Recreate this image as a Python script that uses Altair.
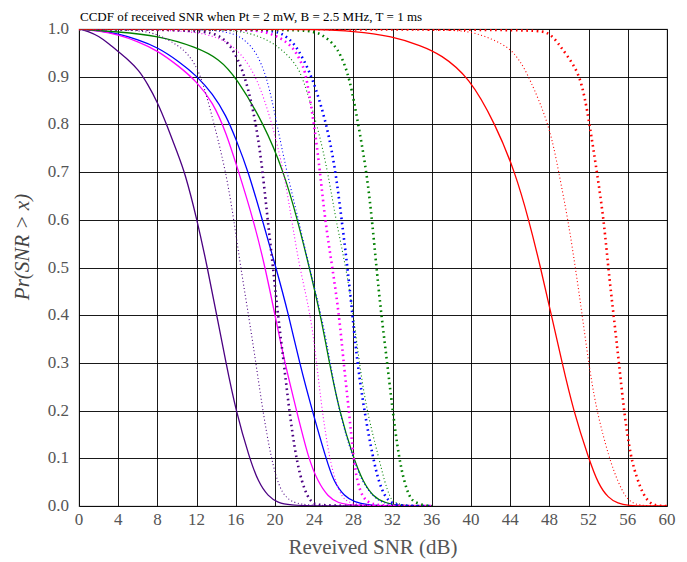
import altair as alt
import pandas as pd

# ---- data (x in dB, y = Pr(SNR > x)) ----
indigo_solid_x = [0, 1, 2, 3, 4, 5, 6.1, 7, 8, 9, 10, 10.8, 12.05, 13.1, 14.05, 15.0, 16.0, 17.4, 18.3, 19.3, 20.3, 21.5, 24, 36]
indigo_solid_y = [1, 0.995, 0.985, 0.97, 0.953, 0.936, 0.914, 0.885, 0.847, 0.797, 0.742, 0.7, 0.6, 0.5, 0.4, 0.3, 0.2, 0.1, 0.05, 0.02, 0.007, 0.002, 0, 0]

indigo_thin_x = [0, 6, 8, 10.2, 11.3, 12.3, 13.1, 13.8, 15.0, 15.8, 16.5, 17.3, 18.05, 18.75, 19.6, 20.4, 21.2, 22.2, 24, 36]
indigo_thin_y = [1, 0.998, 0.99, 0.965, 0.944, 0.909, 0.854, 0.8, 0.7, 0.6, 0.5, 0.4, 0.3, 0.2, 0.1, 0.04, 0.015, 0.005, 0, 0]

indigo_thick_x = [0, 12, 14, 15, 15.8, 17.0, 18.1, 18.75, 19.25, 19.8, 20.3, 20.9, 21.45, 22.15, 22.75, 23.3, 23.9, 24.5, 36]
indigo_thick_y = [1, 0.998, 0.99, 0.975, 0.955, 0.9, 0.8, 0.7, 0.6, 0.5, 0.4, 0.3, 0.2, 0.1, 0.05, 0.02, 0.005, 0, 0]

blue_solid_x = [0, 2, 4, 6, 8, 10.2, 12, 13.65, 15, 16, 17.3, 18.7, 20.1, 21.4, 22.5, 23.8, 25.2, 26.0, 27.1, 28.1, 29.5, 31, 36]
blue_solid_y = [1, 0.997, 0.99, 0.978, 0.962, 0.932, 0.902, 0.864, 0.819, 0.77, 0.7, 0.6, 0.5, 0.4, 0.3, 0.2, 0.1, 0.05, 0.02, 0.008, 0.002, 0, 0]

blue_thin_x = [0, 12, 14, 16, 17, 18, 19.2, 20.2, 21.2, 22.4, 23.5, 24.75, 25.65, 26.5, 27.95, 28.9, 30.0, 31.0, 33, 36]
blue_thin_y = [1, 0.999, 0.997, 0.99, 0.975, 0.955, 0.9, 0.8, 0.7, 0.6, 0.5, 0.4, 0.3, 0.2, 0.1, 0.05, 0.02, 0.005, 0, 0]

blue_thick_x = [0, 18, 20, 20.7, 21.4, 22.1, 22.7, 23.8, 25.3, 26.2, 26.8, 27.4, 27.9, 28.4, 29.1, 30.0, 30.6, 31.2, 31.9, 33, 36]
blue_thick_y = [1, 0.999, 0.995, 0.99, 0.98, 0.965, 0.944, 0.9, 0.8, 0.7, 0.6, 0.5, 0.4, 0.3, 0.2, 0.1, 0.05, 0.02, 0.005, 0, 0]

magenta_solid_x = [0, 2, 4, 6, 8, 10.2, 12, 13.65, 15, 16.3, 17.8, 19.0, 20.0, 21.0, 22.2, 23.4, 24.4, 25.4, 26.4, 28, 36]
magenta_solid_y = [1, 0.996, 0.988, 0.974, 0.955, 0.922, 0.89, 0.847, 0.784, 0.7, 0.6, 0.5, 0.4, 0.3, 0.2, 0.1, 0.05, 0.02, 0.006, 0, 0]

magenta_thin_x = [0, 10, 13, 15, 16.5, 18.15, 19.75, 20.9, 21.7, 22.5, 23.65, 24.25, 24.8, 25.55, 26.2, 26.8, 27.4, 29, 36]
magenta_thin_y = [1, 0.998, 0.99, 0.975, 0.95, 0.9, 0.8, 0.7, 0.6, 0.5, 0.4, 0.3, 0.2, 0.1, 0.05, 0.02, 0.008, 0, 0]

magenta_thick_x = [0, 16, 18, 19.2, 20.7, 21.6, 22.2, 22.9, 23.2, 24.0, 24.6, 25.1, 25.85, 26.55, 27.0, 27.55, 28.0, 28.4, 28.9, 29.6, 31, 36]
magenta_thick_y = [1, 0.999, 0.997, 0.993, 0.98, 0.965, 0.95, 0.92, 0.9, 0.8, 0.7, 0.6, 0.5, 0.4, 0.3, 0.2, 0.1, 0.05, 0.02, 0.005, 0, 0]

green_solid_x = [0, 4, 8, 12, 14.3, 16.0, 18.9, 20.9, 22.3, 23.5, 24.65, 25.55, 26.55, 28.0, 29.0, 30.0, 31.2, 33, 36]
green_solid_y = [1, 0.994, 0.986, 0.962, 0.937, 0.9, 0.8, 0.7, 0.6, 0.5, 0.4, 0.3, 0.2, 0.1, 0.05, 0.02, 0.006, 0, 0]

green_thin_x = [0, 14, 17, 19.5, 21.2, 22.2, 22.8, 24.3, 25.4, 26.2, 27.25, 28.0, 28.6, 29.35, 30.6, 31.2, 31.7, 32.1, 33.5, 36]
green_thin_y = [1, 0.999, 0.995, 0.976, 0.948, 0.923, 0.9, 0.8, 0.7, 0.6, 0.5, 0.4, 0.3, 0.2, 0.1, 0.05, 0.02, 0.007, 0, 0]

green_thick_x = [0, 22, 24, 25.0, 26.05, 26.7, 27.6, 28.5, 29.35, 29.9, 30.35, 30.85, 31.45, 32.0, 32.65, 33.2, 33.7, 34.2, 35.5, 36]
green_thick_y = [1, 0.999, 0.995, 0.986, 0.967, 0.946, 0.9, 0.8, 0.7, 0.6, 0.5, 0.4, 0.3, 0.2, 0.1, 0.05, 0.02, 0.007, 0, 0]

red_solid_x = [0, 20, 24, 28, 32, 34.9, 36.9, 39.8, 42.5, 44.5, 45.9, 47.1, 48.2, 49.3, 50.45, 52.0, 53, 54, 55, 56, 58, 60]
red_solid_y = [1, 1.0, 0.999, 0.996, 0.985, 0.965, 0.947, 0.9, 0.8, 0.7, 0.6, 0.5, 0.4, 0.3, 0.2, 0.1, 0.045, 0.017, 0.005, 0.001, 0, 0]

red_thin_x = [0, 36.9, 40, 42.05, 44, 45.1, 45.9, 48.0, 48.95, 49.9, 50.65, 51.35, 52.0, 52.8, 54.1, 55.0, 55.9, 57, 60]
red_thin_y = [1, 1.0, 0.995, 0.98, 0.96, 0.93, 0.9, 0.8, 0.7, 0.6, 0.5, 0.4, 0.3, 0.2, 0.1, 0.05, 0.013, 0, 0]

red_thick_x = [0, 46, 47.9, 48.9, 49.9, 51, 51.6, 52.1, 52.85, 53.55, 54.0, 54.55, 55.1, 55.6, 56.3, 57, 57.5, 58.2, 59, 60]
red_thick_y = [1, 0.999, 0.995, 0.97, 0.942, 0.907, 0.858, 0.8, 0.7, 0.6, 0.5, 0.4, 0.3, 0.2, 0.1, 0.055, 0.027, 0.006, 0, 0]

families = ["indigo", "blue", "magenta", "green", "red"]
family_colors = ["#4B0082", "#0000FF", "#FF00FF", "#008000", "#FF0000"]
x_ticks = list(range(0, 61, 4))
x_tick_labels = [str(v) for v in x_ticks]
y_ticks = [round(i * 0.1, 1) for i in range(11)]
y_tick_labels = ["%.1f" % v for v in y_ticks]
title_text = "CCDF of received SNR when Pt = 2 mW, B = 2.5 MHz, T = 1 ms"
x_title = "Reveived SNR (dB)"
y_title = "Pr(SNR > x)"

curves = [
    ("indigo", "solid", indigo_solid_x, indigo_solid_y),
    ("indigo", "thin", indigo_thin_x, indigo_thin_y),
    ("indigo", "thick", indigo_thick_x, indigo_thick_y),
    ("blue", "solid", blue_solid_x, blue_solid_y),
    ("blue", "thin", blue_thin_x, blue_thin_y),
    ("blue", "thick", blue_thick_x, blue_thick_y),
    ("magenta", "solid", magenta_solid_x, magenta_solid_y),
    ("magenta", "thin", magenta_thin_x, magenta_thin_y),
    ("magenta", "thick", magenta_thick_x, magenta_thick_y),
    ("green", "solid", green_solid_x, green_solid_y),
    ("green", "thin", green_thin_x, green_thin_y),
    ("green", "thick", green_thick_x, green_thick_y),
    ("red", "solid", red_solid_x, red_solid_y),
    ("red", "thin", red_thin_x, red_thin_y),
    ("red", "thick", red_thick_x, red_thick_y),
]

rows = []
for fam, style, xs, ys in curves:
    for i, (xv, yv) in enumerate(zip(xs, ys)):
        rows.append({"family": fam, "style": style, "series": fam + "_" + style,
                     "x": xv, "y": yv, "i": i})
df = pd.DataFrame(rows)

SERIF = "Liberation Serif"
LABEL_COLOR = "#555555"

xscale = alt.Scale(domain=[0, 60], nice=False)
yscale = alt.Scale(domain=[0, 1], nice=False)
x_axis = alt.Axis(values=x_ticks, labels=False, title=None, grid=True,
                  gridColor="#000000", gridWidth=1, gridOpacity=0.9, domain=False, ticks=False)
y_axis = alt.Axis(values=y_ticks, labels=False, title=None, grid=True,
                  gridColor="#000000", gridWidth=1, gridOpacity=0.9, domain=False, ticks=False)
xenc = alt.X("x:Q", scale=xscale, axis=x_axis)
yenc = alt.Y("y:Q", scale=yscale, axis=y_axis)
color = alt.Color("family:N", scale=alt.Scale(domain=families, range=family_colors), legend=None)

base = alt.Chart(df)

solid = base.transform_filter(alt.datum.style == "solid").mark_line(
    strokeWidth=1.3, interpolate="basis", clip=True
).encode(x=xenc, y=yenc, color=color, detail="series:N", order="i:Q")

thin = base.transform_filter(alt.datum.style == "thin").mark_line(
    strokeWidth=1.1, strokeDash=[1, 2.5], interpolate="basis", clip=True
).encode(x=xenc, y=yenc, color=color, detail="series:N", order="i:Q")

thick = base.transform_filter(alt.datum.style == "thick").mark_line(
    strokeWidth=2.6, strokeDash=[1.6, 3.6], interpolate="basis", clip=True
).encode(x=xenc, y=yenc, color=color, detail="series:N", order="i:Q")

x_lab = alt.Chart(pd.DataFrame({"x": x_ticks, "t": x_tick_labels})).mark_text(
    font=SERIF, fontSize=17, color=LABEL_COLOR, align="center", baseline="middle"
).encode(x=xenc, y=alt.value(491), text="t:N")

y_lab = alt.Chart(pd.DataFrame({"y": y_ticks, "t": y_tick_labels})).mark_text(
    font=SERIF, fontSize=17, color=LABEL_COLOR, align="right", baseline="middle"
).encode(y=yenc, x=alt.value(-10), text="t:N")

x_tit = alt.Chart(pd.DataFrame({"t": [x_title]})).mark_text(
    font=SERIF, fontSize=21, color=LABEL_COLOR, align="center", baseline="middle"
).encode(x=alt.value(294), y=alt.value(519), text="t:N")

y_tit = alt.Chart(pd.DataFrame({"t": [y_title]})).mark_text(
    font=SERIF, fontSize=21, fontStyle="italic", color="#444444", angle=270,
    align="center", baseline="middle"
).encode(x=alt.value(-56), y=alt.value(218), text="t:N")

title_mark = alt.Chart(pd.DataFrame({"t": [title_text]})).mark_text(
    font=SERIF, fontSize=13, color="#000000", align="left", baseline="alphabetic"
).encode(x=alt.value(1), y=alt.value(-8), text="t:N")

chart = alt.layer(solid, thin, thick, x_lab, y_lab, x_tit, y_tit, title_mark).properties(
    width=588, height=477,
    autosize=alt.AutoSizeParams(type="none"),
    padding={"left": 71, "top": 21, "right": 12, "bottom": 56},
).configure(
    background="white"
).configure_view(stroke="#888888", strokeWidth=1.2)

chart.save("out.html", embed_options={"renderer": "svg", "actions": False})
